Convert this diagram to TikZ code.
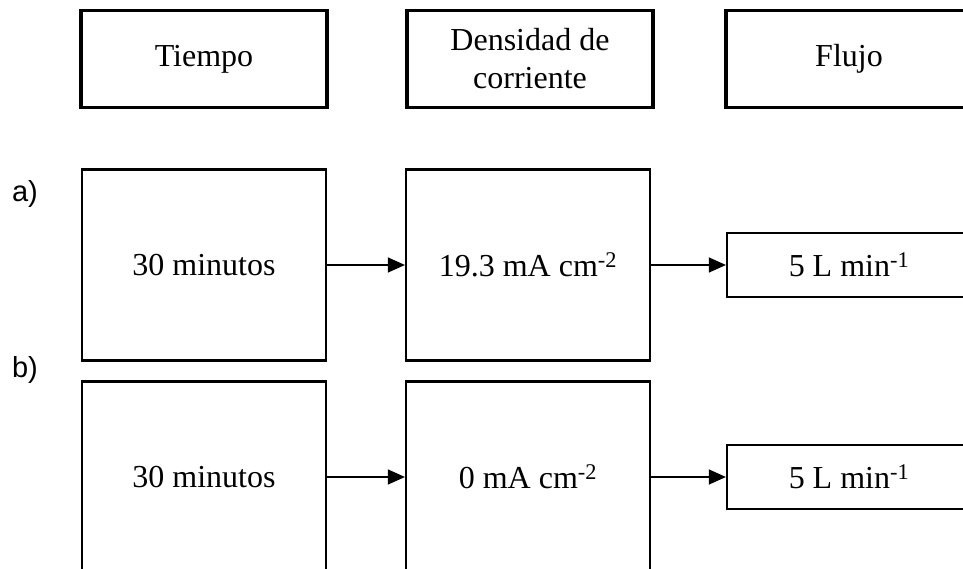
\documentclass[tikz,border=0pt]{standalone}
\usepackage{fontspec}
\setmainfont{Liberation Serif}
\newfontfamily\tagfont{Liberation Sans}
\usetikzlibrary{arrows.meta, positioning}
\tikzstyle{head} = [rectangle, minimum width=246pt, minimum height=97pt, text centered, align=center, draw=black, line width=3.5pt, inner sep=0pt, font=\fontsize{32}{38}\selectfont]
\tikzstyle{cond} = [rectangle, minimum width=244pt, minimum height=191pt, text centered, draw=black, line width=2.2pt, inner sep=0pt, font=\fontsize{32}{37}\selectfont]
\tikzstyle{flow} = [rectangle, minimum width=244pt, minimum height=64pt, text centered, draw=black, line width=2.2pt, inner sep=0pt, font=\fontsize{32}{37}\selectfont]
\tikzstyle{tag} = [inner sep=0pt, font=\tagfont\fontsize{29}{33}\selectfont]
\tikzstyle{arrow} = [line width=1.2pt, -{Triangle[length=17pt, width=15pt]}]

\begin{document}
\begin{tikzpicture}[x=1pt, y=1pt, node distance=324pt]
\useasboundingbox (-204,59) rectangle (759,-510);
\clip (-204,59) rectangle (759,-510);

%Headers
\node (tiempo) [head] {Tiempo};
\node (densidad) [head, right of=tiempo, xshift=2pt] {Densidad de\\corriente};
\node (flujo) [head, right of=densidad, xshift=-5pt] {Flujo};
%Row a
\node (tiempoA) [cond, below of=tiempo, yshift=118pt] {30 minutos};
\node (densA) [cond, right of=tiempoA] {19.3 mA cm\textsuperscript{-2}};
\node (flujoA) [flow, right of=densA, xshift=-3pt] {5 L min\textsuperscript{-1}};
\node (tagA) [tag, left of=tiempoA, xshift=145pt, yshift=71pt] {a)};
%Row b
\node (tiempoB) [cond, below of=tiempoA, yshift=112pt] {30 minutos};
\node (densB) [cond, right of=tiempoB] {0 mA cm\textsuperscript{-2}};
\node (flujoB) [flow, right of=densB, xshift=-3pt] {5 L min\textsuperscript{-1}};
\node (tagB) [tag, left of=tiempoB, xshift=145pt, yshift=107pt] {b)};

%arrows
\draw [arrow] (tiempoA) -- (densA);
\draw [arrow] (densA) -- (flujoA);
\draw [arrow] (tiempoB) -- (densB);
\draw [arrow] (densB) -- (flujoB);

\end{tikzpicture}
\end{document}
